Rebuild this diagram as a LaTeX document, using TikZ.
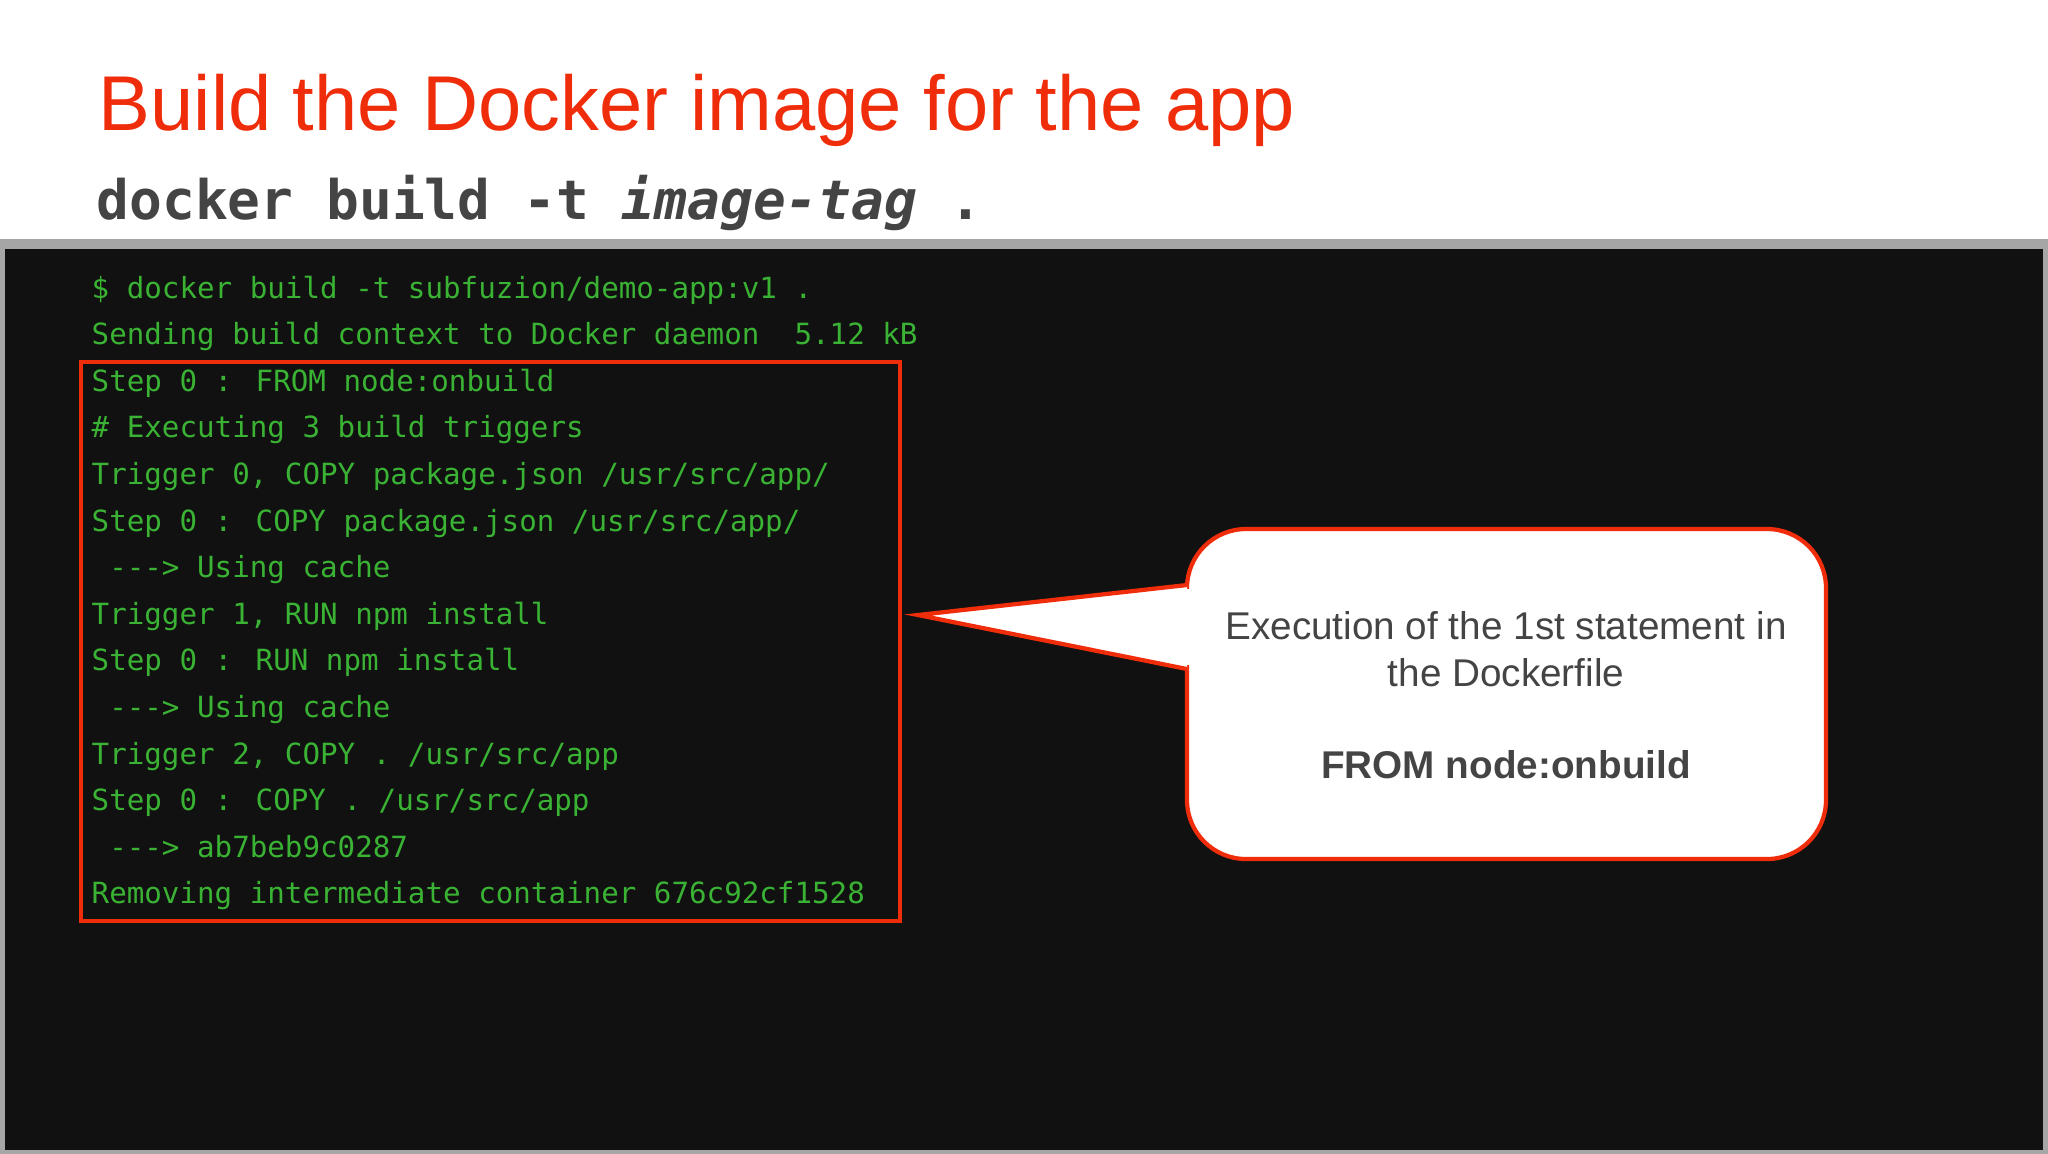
\documentclass[tikz,border=0pt]{standalone}
\usepackage{fontspec}
\setmainfont{Liberation Sans}
\newfontfamily\termfont{DejaVu Sans Mono}
\usetikzlibrary{positioning}
\definecolor{titlered}{RGB}{240,45,10}
\definecolor{termgreen}{RGB}{58,178,52}
\definecolor{termbg}{RGB}{17,17,17}
\definecolor{textgray}{RGB}{68,68,68}
\tikzset{
  termline/.style={anchor=base west, inner sep=0pt, text=termgreen,
    font=\termfont\fontsize{8.3}{10}\selectfont},
  callout/.style={draw=titlered, line width=1.2pt, fill=white},
}
\begin{document}
\begin{tikzpicture}[x=0.01cm, y=-0.01cm]
  \useasboundingbox (0,0) rectangle (2048,1153);
  \fill[white] (0,0) rectangle (2048,1153);
  % slide heading
  \node[anchor=base west, inner sep=0pt, text=titlered,
    font=\fontsize{22.1}{28}\selectfont] (title) at (98,130)
    {Build the Docker image for the app};
  \node[anchor=base west, inner sep=0pt, text=textgray,
    font=\termfont\bfseries\fontsize{15.5}{18}\selectfont] (cmd) at (96,219)
    {docker build -t \textit{image-tag} .};
  % terminal window
  \draw[fill=termbg, draw=gray!70, line width=3pt] (0,244) rectangle (2048,1155);
  \foreach \i/\T in {
    0/{\$ docker build -t subfuzion/demo-app:v1 .},
    1/{Sending build context to Docker daemon\ \ 5.12 kB},
    2/{Step 0 : FROM node:onbuild},
    3/{\# Executing 3 build triggers},
    4/{Trigger 0, COPY package.json /usr/src/app/},
    5/{Step 0 : COPY package.json /usr/src/app/},
    6/{\phantom{x}-{}-{}-> Using cache},
    7/{Trigger 1, RUN npm install},
    8/{Step 0 : RUN npm install},
    9/{\phantom{x}-{}-{}-> Using cache},
    10/{Trigger 2, COPY . /usr/src/app},
    11/{Step 0 : COPY . /usr/src/app},
    12/{\phantom{x}-{}-{}-> ab7beb9c0287},
    13/{Removing intermediate container 676c92cf1528}
  } {
    \node[termline] (l\i) at (91,{298+46.6*\i}) {\T};
  }
  \draw[titlered, line width=1.2pt] (81,362) rectangle (900,921);
  % callout bubble
  \coordinate (tip) at (918,615);
  \draw[callout, rounded corners=0.59cm] (1187,529) rectangle (1826,859);
  \fill[white] (1187,585) -- (tip) -- (1187,669) -- cycle;
  \fill[white] (1183,589) rectangle (1193,665);
  \draw[titlered, line width=1.2pt] (1187,585) -- (tip) -- (1187,669);
  \node[align=center, text=textgray, font=\fontsize{11}{13.2}\selectfont,
    anchor=base] (note) at (1506,686)
    {Execution of the 1st statement in\\the Dockerfile};
  \node[anchor=base, text=textgray, font=\bfseries\fontsize{11}{14}\selectfont]
    (stmt) at (1506,778) {FROM node:onbuild};
\end{tikzpicture}
\end{document}
